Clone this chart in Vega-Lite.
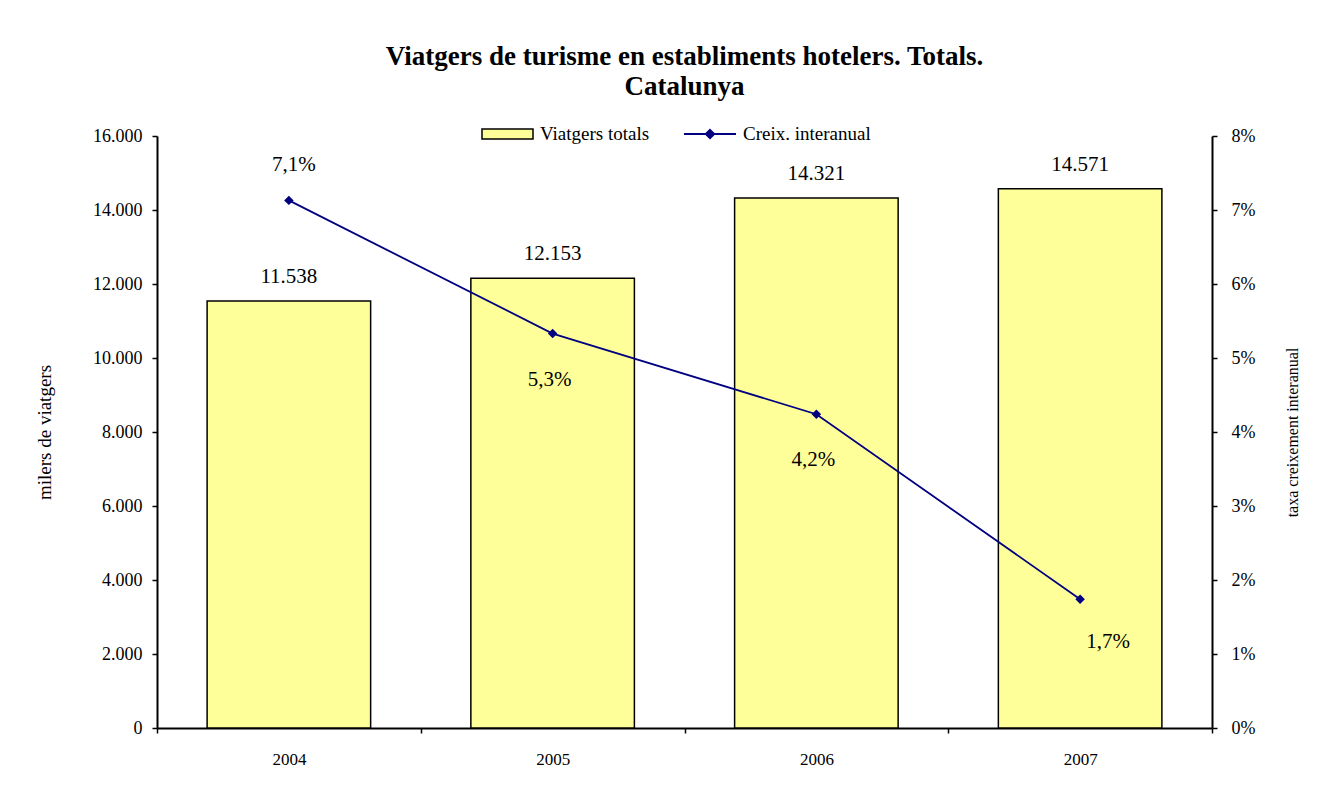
{
  "$schema": "https://vega.github.io/schema/vega-lite/v6.json",
  "width": 1055,
  "height": 592,
  "autosize": {"type": "none"},
  "padding": {"left": 157, "top": 136, "right": 125, "bottom": 67},
  "background": "white",
  "config": {
    "locale": {"number": {"decimal": ",", "thousands": ".", "grouping": [3], "currency": ["", " €"]}},
    "font": "Liberation Serif",
    "view": {"stroke": null},
    "axis": {"labelFont": "Liberation Serif", "titleFont": "Liberation Serif", "labelColor": "#000", "titleColor": "#000", "domainColor": "#000", "tickColor": "#000", "grid": false, "labelFontSize": 18, "titleFontSize": 19, "titleFontWeight": "normal", "domainWidth": 2, "tickWidth": 1.5, "labelOverlap": false, "labelFlush": false}
  },
  "title": {
    "text": ["Viatgers de turisme en establiments hotelers. Totals.", "Catalunya"],
    "font": "Liberation Serif",
    "fontSize": 27,
    "fontWeight": "bold",
    "color": "#000",
    "anchor": "middle",
    "frame": "group",
    "offset": 6,
    "lineHeight": 30
  },
  "data": {
    "values": [
      {"any": "2004", "viatgers": 11538, "creix": 0.0713},
      {"any": "2005", "viatgers": 12153, "creix": 0.0533},
      {"any": "2006", "viatgers": 14321, "creix": 0.0424},
      {"any": "2007", "viatgers": 14571, "creix": 0.0174}
    ]
  },
  "encoding": {
    "x": {
      "field": "any", "type": "nominal",
      "scale": {"paddingInner": 0, "paddingOuter": 0},
      "axis": {"title": null, "labelAngle": 0, "tickBand": "extent", "tickSize": 5, "labelPadding": 18, "labelFontSize": 17}
    }
  },
  "layer": [
    {
      "encoding": {
        "y": {
          "field": "viatgers", "type": "quantitative",
          "scale": {"domain": [0, 16000], "nice": false},
          "axis": {"orient": "left", "title": "milers de viatgers", "format": ",.0f", "values": [0,2000,4000,6000,8000,10000,12000,14000,16000], "tickSize": 5, "labelPadding": 10, "titlePadding": 38}
        }
      },
      "layer": [
        {
          "mark": {"type": "bar", "stroke": "#000", "strokeWidth": 1.5, "width": {"band": 0.62}},
          "encoding": {
            "fill": {
              "datum": "Viatgers totals",
              "scale": {"range": ["#FFFF99"]},
              "legend": {
                "title": null, "orient": "none", "legendX": 324, "legendY": -28.5, "padding": 0,
                "symbolType": "M-1,-0.2H1V0.2H-1Z", "symbolSize": 2601, "symbolStrokeColor": "#000", "symbolStrokeWidth": 1.5,
                "labelFont": "Liberation Serif", "labelFontSize": 19, "labelColor": "#000", "labelOffset": 6
              }
            }
          }
        },
        {
          "mark": {"type": "text", "dy": -24, "fontSize": 21, "font": "Liberation Serif", "color": "#000"},
          "encoding": {"text": {"field": "viatgers", "type": "quantitative", "format": ",.0f"}}
        }
      ]
    },
    {
      "encoding": {
        "y": {
          "field": "creix", "type": "quantitative",
          "scale": {"domain": [0, 0.08], "nice": false},
          "axis": {"orient": "right", "title": "taxa creixement interanual", "titleAngle": 270, "titleFontSize": 16, "format": ".0%", "values": [0,0.01,0.02,0.03,0.04,0.05,0.06,0.07,0.08], "tickSize": 5, "labelPadding": 14, "titlePadding": 46}
        }
      },
      "layer": [
        {
          "mark": {"type": "line", "strokeWidth": 1.8},
          "encoding": {
            "stroke": {
              "datum": "Creix. interanual",
              "scale": {"range": ["#000080"]},
              "legend": {
                "title": null, "orient": "none", "legendX": 526, "legendY": -29, "padding": 0,
                "symbolType": "M-1,0H1M0,-0.16L0.16,0L0,0.16L-0.16,0Z", "symbolSize": 2704,
                "symbolStrokeColor": "#000080", "symbolFillColor": "#000080", "symbolStrokeWidth": 2,
                "labelFont": "Liberation Serif", "labelFontSize": 19, "labelColor": "#000", "labelOffset": 6,
                "encoding": {"symbols": {"update": {"fill": {"value": "#000080"}}}}
              }
            }
          }
        },
        {
          "mark": {"type": "point", "shape": "diamond", "filled": true, "color": "#000080", "size": 90, "opacity": 1}
        },
        {
          "transform": [{"filter": "datum.any == '2004'"}],
          "mark": {"type": "text", "dy": -35, "dx": 5, "fontSize": 21, "font": "Liberation Serif", "color": "#000"},
          "encoding": {"text": {"field": "creix", "type": "quantitative", "format": ".1%"}}
        },
        {
          "transform": [{"filter": "datum.any == '2005' || datum.any == '2006'"}],
          "mark": {"type": "text", "dy": 46, "dx": -3, "fontSize": 21, "font": "Liberation Serif", "color": "#000"},
          "encoding": {"text": {"field": "creix", "type": "quantitative", "format": ".1%"}}
        },
        {
          "transform": [{"filter": "datum.any == '2007'"}],
          "mark": {"type": "text", "dy": 43, "dx": 28, "fontSize": 21, "font": "Liberation Serif", "color": "#000"},
          "encoding": {"text": {"field": "creix", "type": "quantitative", "format": ".1%"}}
        }
      ]
    }
  ],
  "resolve": {"scale": {"y": "independent"}}
}
